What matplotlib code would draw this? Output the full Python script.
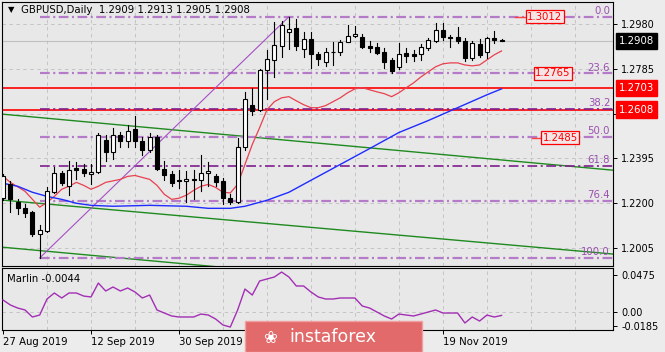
import matplotlib
matplotlib.use("Agg")
import matplotlib.pyplot as plt
import matplotlib.transforms as mtransforms
from matplotlib.patches import Rectangle

plt.rcParams["lines.scale_dashes"] = False

# daily GBPUSD candles, 27 Aug 2019 .. 29 Nov 2019 (bar index = position)
opens = [1.2222, 1.2282, 1.2204, 1.2178, 1.2161, 1.2066, 1.2079, 1.2248, 1.2330, 1.2274,
         1.2352, 1.2348, 1.2326, 1.2334, 1.2477, 1.2425, 1.2495, 1.2469, 1.2525, 1.2469,
         1.2430, 1.2490, 1.2347, 1.2326, 1.2300, 1.2295, 1.2300, 1.2300, 1.2330, 1.2317,
         1.2295, 1.2222, 1.2204, 1.2447, 1.2629, 1.2607, 1.2781, 1.2824, 1.2885, 1.2945,
         1.2963, 1.2872, 1.2915, 1.2850, 1.2815, 1.2859, 1.2859, 1.2902, 1.2928, 1.2924,
         1.2885, 1.2880, 1.2859, 1.2824, 1.2794, 1.2854, 1.2850, 1.2850, 1.2876, 1.2906,
         1.2954, 1.2924, 1.2924, 1.2906, 1.2833, 1.2893, 1.2859, 1.2919, 1.2909]
highs = [1.2326, 1.2295, 1.2217, 1.2196, 1.2165, 1.2105, 1.2269, 1.2356, 1.2339, 1.2386,
         1.2378, 1.2373, 1.2369, 1.2508, 1.2495, 1.2529, 1.2512, 1.2542, 1.2581, 1.2490,
         1.2508, 1.2495, 1.2382, 1.2339, 1.2343, 1.2339, 1.2343, 1.2412, 1.2378, 1.2326,
         1.2308, 1.2239, 1.2482, 1.2685, 1.2703, 1.2785, 1.2867, 1.2989, 1.2993, 1.3012,
         1.3002, 1.2945, 1.2945, 1.2859, 1.2876, 1.2902, 1.2911, 1.2976, 1.2971, 1.2937,
         1.2906, 1.2898, 1.2876, 1.2833, 1.2898, 1.2876, 1.2867, 1.2893, 1.2919, 1.2984,
         1.2984, 1.2932, 1.2967, 1.2919, 1.2906, 1.2915, 1.2925, 1.2950, 1.2913]
lows = [1.2213, 1.2161, 1.2152, 1.2139, 1.2057, 1.1960, 1.2074, 1.2243, 1.2278, 1.2235,
        1.2304, 1.2317, 1.2282, 1.2330, 1.2386, 1.2391, 1.2447, 1.2443, 1.2447, 1.2412,
        1.2421, 1.2345, 1.2300, 1.2274, 1.2265, 1.2204, 1.2217, 1.2252, 1.2274, 1.2274,
        1.2196, 1.2196, 1.2200, 1.2434, 1.2586, 1.2603, 1.2655, 1.2750, 1.2837, 1.2872,
        1.2867, 1.2837, 1.2789, 1.2802, 1.2798, 1.2802, 1.2846, 1.2900, 1.2924, 1.2876,
        1.2859, 1.2850, 1.2789, 1.2768, 1.2785, 1.2815, 1.2820, 1.2824, 1.2867, 1.2902,
        1.2911, 1.2880, 1.2898, 1.2820, 1.2824, 1.2837, 1.2833, 1.2898, 1.2905]
closes = [1.2317, 1.2217, 1.2178, 1.2157, 1.2066, 1.2083, 1.2252, 1.2330, 1.2287, 1.2343,
          1.2343, 1.2330, 1.2334, 1.2499, 1.2425, 1.2495, 1.2469, 1.2516, 1.2469, 1.2430,
          1.2490, 1.2347, 1.2321, 1.2287, 1.2295, 1.2304, 1.2304, 1.2330, 1.2339, 1.2291,
          1.2222, 1.2204, 1.2443, 1.2655, 1.2603, 1.2781, 1.2828, 1.2889, 1.2976, 1.2958,
          1.2885, 1.2915, 1.2850, 1.2828, 1.2859, 1.2857, 1.2902, 1.2928, 1.2937, 1.2880,
          1.2876, 1.2854, 1.2815, 1.2776, 1.2850, 1.2841, 1.2841, 1.2880, 1.2911, 1.2954,
          1.2924, 1.2919, 1.2906, 1.2833, 1.2898, 1.2846, 1.2919, 1.2911, 1.2908]

# red (fast) moving average
ma_fast_idx = [0, 1, 3, 5, 6, 7, 8, 9, 10, 11, 12, 13, 14, 16, 17, 18, 20, 21, 22, 23,
               24, 25, 26, 27, 28, 29, 30, 31, 32, 33, 34, 35, 36, 37, 38, 39, 40, 41, 42, 43,
               44, 45, 46, 47, 48, 49, 50, 51, 52, 53, 54, 55, 56, 57, 58, 59, 60, 61, 62, 63,
               64, 65, 66, 67, 68]
ma_fast = [1.2317, 1.2291, 1.2252, 1.2183, 1.2204, 1.2230, 1.2261, 1.2274, 1.2291, 1.2278,
           1.2261, 1.2274, 1.2291, 1.2304, 1.2317, 1.2321, 1.2304, 1.2278, 1.2239, 1.2217,
           1.2222, 1.2235, 1.2256, 1.2274, 1.2282, 1.2269, 1.2248, 1.2245, 1.2282, 1.2369,
           1.2456, 1.2529, 1.2607, 1.2642, 1.2659, 1.2664, 1.2646, 1.2629, 1.2616, 1.2616,
           1.2625, 1.2642, 1.2659, 1.2681, 1.2698, 1.2703, 1.2694, 1.2685, 1.2677, 1.2664,
           1.2681, 1.2703, 1.2724, 1.2750, 1.2772, 1.2794, 1.2807, 1.2811, 1.2811, 1.2802,
           1.2798, 1.2802, 1.2824, 1.2846, 1.2863]

# blue (slow) moving average
ma_slow_idx = [0, 2, 4, 6, 8, 10, 12, 15, 20, 25, 28, 31, 33, 36, 39, 42, 46, 50, 54, 58, 62, 66, 68]
ma_slow = [1.2287, 1.2274, 1.2248, 1.2230, 1.2217, 1.2200, 1.2191, 1.2187, 1.2191, 1.2187,
           1.2178, 1.2178, 1.2187, 1.2213, 1.2248, 1.2300, 1.2369, 1.2438, 1.2508, 1.2560,
           1.2616, 1.2672, 1.2698]

# Marlin oscillator
marlin = [0.0154, 0.0090, 0.0051, 0.0026, -0.0064, -0.0039, 0.0167, 0.0244, 0.0180, 0.0244,
          0.0244, 0.0205, 0.0193, 0.0372, 0.0270, 0.0321, 0.0270, 0.0308, 0.0257, 0.0180,
          0.0218, 0.0026, -0.0013, -0.0051, -0.0064, -0.0064, -0.0064, -0.0026, -0.0039, -0.0090,
          -0.0167, -0.0193, 0.0026, 0.0295, 0.0218, 0.0398, 0.0424, 0.0449, 0.0513, 0.0449,
          0.0334, 0.0334, 0.0257, 0.0193, 0.0167, 0.0167, 0.0180, 0.0180, 0.0180, 0.0077,
          0.0051, 0.0000, -0.0051, -0.0090, -0.0026, -0.0039, -0.0051, -0.0026, 0.0000, 0.0026,
          -0.0013, -0.0013, -0.0013, -0.0141, -0.0064, -0.0116, -0.0039, -0.0064, -0.0044]

# Fibonacci grid (low bar 5 -> high bar 39)
fib_names = ["0.0", "23.6", "38.2", "50.0", "61.8", "76.4", "100.0"]
fib_prices = [1.3012, 1.2765, 1.2611, 1.2487, 1.2363, 1.2209, 1.1962]
fib_dark = [False, False, True, False, True, False, False]
fib_start = 5
fib_low_bar, fib_low = 5, 1.1962
fib_high_bar, fib_high = 39, 1.3012

# green channel lines: (bar, price) endpoints
green_lines = [((-0.14, 1.2588), (83.2, 1.2344)),
               ((-0.14, 1.2214), (83.2, 1.1979)),
               ((-0.14, 1.2009), (83.2, 1.1766))]

red_levels = [1.2703, 1.2608]
boxed_labels = ["1.3012", "1.2765", "1.2485"]
boxed_prices = [1.3012, 1.2765, 1.2485]
boxed_bars = [73.9, 75.0, 76.0]
boxed_ray_from = [69.8, None, 72.1]

bid = 1.2908
price_ticks = [1.2005, 1.2200, 1.2395, 1.2590, 1.2785, 1.2980]
price_tick_labels = ["1.2005", "1.2200", "1.2395", "", "1.2785", "1.2980"]
marlin_ticks = [0.0475, 0.0, -0.0185]
marlin_tick_labels = ["0.0475", "0.00", "-0.0185"]
date_pos = [0, 12, 24, 60]
date_labels = ["27 Aug 2019", "12 Sep 2019", "30 Sep 2019", "19 Nov 2019"]
grid_bars = [6, 12, 18, 24, 30, 36, 42, 48, 54, 60, 66, 72, 78]

W, H = 665, 352
fig = plt.figure(figsize=(W / 100, H / 100), dpi=100, facecolor="#ececec")
ax = fig.add_axes([2 / W, (H - 266) / H, 611 / W, 264 / H], facecolor="#e8e8e8")
ax2 = fig.add_axes([2 / W, (H - 330) / H, 611 / W, 62 / H], facecolor="#e8e8e8")

xmin, xmax = -0.14, 83.2
ax.set_xlim(xmin, xmax)
ax.set_ylim(1.1927, 1.3076)
ax2.set_xlim(xmin, xmax)
ax2.set_ylim(-0.0231, 0.0565)

grid_kw = dict(color="#c4c4c4", lw=0.7, ls=(0, (2.5, 2.5)), zorder=0)
for g in grid_bars:
    ax.axvline(g, **grid_kw)
    ax2.axvline(g, **grid_kw)
for t in price_ticks:
    ax.axhline(t, **grid_kw)
ax2.axhline(0.0, **grid_kw)

# bid line
ax.axhline(bid, color="#c0c0c0", lw=0.8, zorder=1)

# green channel
for (x0, y0), (x1, y1) in green_lines:
    ax.plot([x0, x1], [y0, y1], color="#1f8a1f", lw=1.0, zorder=2)

# red horizontal levels
for lv in red_levels:
    ax.axhline(lv, color="#ff0000", lw=1.2, zorder=2)

# fib levels
for name, pr, dark in zip(fib_names, fib_prices, fib_dark):
    col = "#7e1f8e" if dark else "#b57bc8"
    ax.plot([fib_start, xmax], [pr, pr], color=col, lw=1.2 if dark else 1.6,
            dashes=(7, 2.5, 1.5, 2.5), zorder=3)
    ax.text(xmax - 0.4, pr + 0.0004, name, color="#9b4fb0", fontsize=7.3,
            ha="right", va="bottom", zorder=4)
ax.plot([fib_low_bar, fib_high_bar], [fib_low, fib_high], color="#a450c4", lw=0.8, zorder=3)

# moving averages
ax.plot(ma_fast_idx, ma_fast, color="#e8404f", lw=0.9, zorder=4)
ax.plot(ma_slow_idx, ma_slow, color="#1e2cff", lw=1.0, zorder=4)

# candles
for i, (o, h, l, c) in enumerate(zip(opens, highs, lows, closes)):
    ax.plot([i, i], [l, h], color="black", lw=0.8, zorder=5)
    bottom = min(o, c)
    height = max(abs(c - o), 0.00005)
    fc = "white" if c >= o else "black"
    ax.add_patch(Rectangle((i - 0.28, bottom), 0.56, height, facecolor=fc,
                           edgecolor="black", lw=0.8, zorder=6))

# boxed price labels
for lbl, pr, bx, ray in zip(boxed_labels, boxed_prices, boxed_bars, boxed_ray_from):
    if ray is not None:
        ax.plot([ray, bx - 2.3], [pr, pr], color="#ff4040", lw=1.0, zorder=6)
    ax.text(bx, pr, lbl, color="#ff0000", fontsize=7.3, ha="center", va="center", zorder=7,
            bbox=dict(boxstyle="square,pad=0.15", fc="#f4e6e6", ec="#ff0000", lw=0.9))

# right price axis
for a in (ax, ax2):
    a.yaxis.tick_right()
    a.tick_params(axis="y", direction="out", length=3, width=0.7, pad=3, labelsize=7, colors="black")
    for s in a.spines.values():
        s.set_color("black")
        s.set_linewidth(0.8)
ax.set_yticks(price_ticks)
ax.set_yticklabels(price_tick_labels)
ax.set_xticks([])
ax2.set_yticks(marlin_ticks)
ax2.set_yticklabels(marlin_tick_labels)

trans = mtransforms.blended_transform_factory(ax.transAxes, ax.transData)
for lv in red_levels:
    ax.text(1 + 6 / 611, lv, "%.4f" % lv, transform=trans, color="white", fontsize=7.3,
            ha="left", va="center", zorder=20, clip_on=False,
            bbox=dict(boxstyle="square,pad=0.3", fc="#ff0000", ec="#ff0000"))
ax.text(1 + 6 / 611, bid, "%.4f" % bid, transform=trans, color="white", fontsize=7.3,
        ha="left", va="center", zorder=20, clip_on=False,
        bbox=dict(boxstyle="square,pad=0.3", fc="black", ec="black"))

# title
ax.text(6 / 611, 1 - 8 / 264, "\u25bc", transform=ax.transAxes, fontsize=6, va="center", ha="left")
ax.text(19 / 611, 1 - 8 / 264, "GBPUSD,Daily  1.2909 1.2913 1.2905 1.2908",
        transform=ax.transAxes, fontsize=7.3, va="center", ha="left")

# Marlin panel
ax2.plot(range(len(marlin)), marlin, color="#a22fb4", lw=1.0, zorder=3)
ax2.text(5 / 611, 1 - 11 / 62, "Marlin -0.0044", transform=ax2.transAxes,
         fontsize=7.3, va="center", ha="left")
ax2.set_xticks(date_pos)
ax2.set_xticklabels(date_labels)
ax2.tick_params(axis="x", direction="out", length=3, width=0.7, pad=2, labelsize=7.3)
for t in ax2.get_xticklabels():
    t.set_ha("left")

# logo
fig.patches.append(Rectangle((245 / W, 0), 177 / W, 31 / H, transform=fig.transFigure,
                             facecolor="#e26a6a", edgecolor="#f0a0a0", lw=1.0, zorder=10))
fig.text(270 / W, 14 / H, "\u2740", color="white", fontsize=12, ha="center", va="center", zorder=11)
fig.text(289 / W, 15 / H, "instaforex", color="white", fontsize=12.5, ha="left", va="center", zorder=11)

fig.savefig("out.png", dpi=100, facecolor=fig.get_facecolor())
